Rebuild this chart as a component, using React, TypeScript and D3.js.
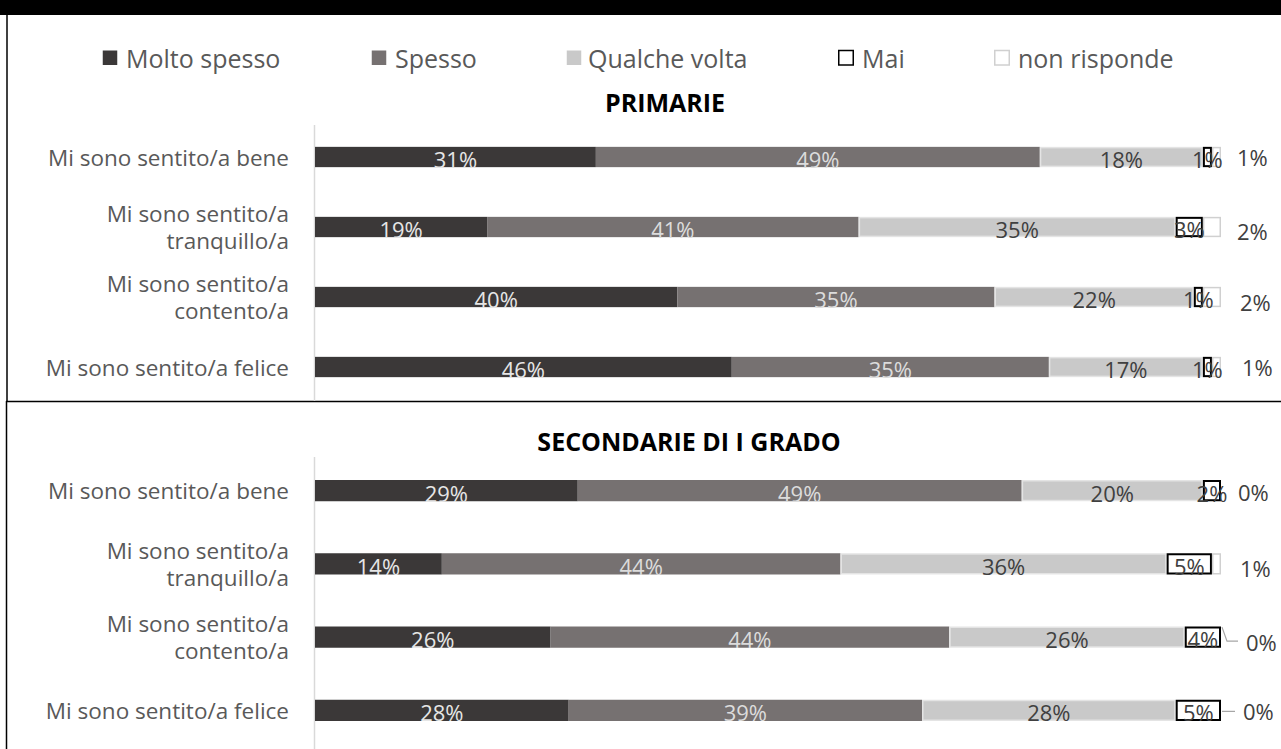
import React from 'react';
import * as d3 from 'd3';

const width = 1281;
const height = 749;

const seriesNames = ['Molto spesso', 'Spesso', 'Qualche volta', 'Mai', 'non risponde'];
const categories = [
  'Mi sono sentito/a bene',
  'Mi sono sentito/a tranquillo/a',
  'Mi sono sentito/a contento/a',
  'Mi sono sentito/a felice',
];
const categoryLines = [
  ['Mi sono sentito/a bene'],
  ['Mi sono sentito/a', 'tranquillo/a'],
  ['Mi sono sentito/a', 'contento/a'],
  ['Mi sono sentito/a felice'],
];

// PRIMARIE
const primMoltoSpesso = [31, 19, 40, 46];
const primSpesso = [49, 41, 35, 35];
const primQualcheVolta = [18, 35, 22, 17];
const primMai = [1, 3, 1, 1];
const primNonRisponde = [1, 2, 2, 1];

// SECONDARIE DI I GRADO
const secMoltoSpesso = [29, 14, 26, 28];
const secSpesso = [49, 44, 44, 39];
const secQualcheVolta = [20, 36, 26, 28];
const secMai = [2, 5, 4, 5];
const secNonRisponde = [0, 1, 0, 0];

const fills = ['#3b3838', '#767171', '#c9c9c9', '#ffffff', '#ffffff'];
const strokes = ['none', 'none', '#e4e4e4', '#000000', '#d0d0d0'];
const strokeWidths = [0, 0, 1.5, 2, 1.5];
const labelColors = ['#e6e6e6', '#dcdcdc', '#404040', '#404040', '#404040'];

const legendSquareX = [102, 371, 566, 838, 994];
const legendTextX = [126, 395, 588, 862, 1018];

const font = "'Segoe UI', 'Open Sans', sans-serif";

const x = d3.scaleLinear().domain([0, 100]).range([315, 1221]);

function buildRows(cols) {
  return categories.map((c, i) => {
    const row = {category: c};
    seriesNames.forEach((s, j) => {
      row[s] = cols[j][i];
    });
    return row;
  });
}

function Panel({title, titleX, titleY, cols, rangeY, axisY, outside, leaders}) {
  const rows = buildRows(cols);
  const stacked = d3.stack().keys(seriesNames)(rows);
  const y = d3.scaleBand()
    .domain(categories)
    .range(rangeY)
    .paddingInner(0.71)
    .paddingOuter(0.355);
  const bw = y.bandwidth();

  return (
    <g>
      <text x={titleX} y={titleY} textAnchor="middle" dominantBaseline="central"
        fontFamily={font} fontWeight="bold" fontSize={25} fill="#000">{title}</text>
      <line x1={314.5} x2={314.5} y1={axisY[0]} y2={axisY[1]} stroke="#d9d9d9" strokeWidth={1.5} />
      {categories.map((c, i) => {
        const cy = y(c) + bw / 2;
        const lines = categoryLines[i];
        return (
          <text key={c} x={289} textAnchor="end" fontFamily={font} fontSize={22.5} fill="#595959">
            {lines.map((l, k) => (
              <tspan key={k} x={289} y={cy + (k - (lines.length - 1) / 2) * 27} dominantBaseline="central">{l}</tspan>
            ))}
          </text>
        );
      })}
      {stacked.map((layer, j) => (
        <g key={layer.key}>
          {layer.map((d, i) => {
            const x0 = x(d[0]);
            const x1 = x(d[1]);
            const w = Math.max(x1 - x0, 0);
            const yy = y(categories[i]);
            const inset = strokeWidths[j] / 2;
            return (
              <rect key={i}
                x={x0 + inset} y={yy + inset}
                width={Math.max(w - strokeWidths[j], 0)} height={bw - strokeWidths[j]}
                fill={fills[j]} stroke={strokes[j]} strokeWidth={strokeWidths[j]} />
            );
          })}
        </g>
      ))}
      {stacked.map((layer, j) => (
        <g key={'lab' + layer.key}>
          {layer.map((d, i) => {
            const v = d[1] - d[0];
            const cy = y(categories[i]) + bw / 2;
            if (j === 4) {
              const [dx, dy] = outside[i];
              return (
                <text key={i} x={x(100) + dx} y={cy + dy} dominantBaseline="central"
                  fontFamily={font} fontSize={22} fill={labelColors[j]}>{v}%</text>
              );
            }
            return (
              <text key={i} x={(x(d[0]) + x(d[1])) / 2} y={cy + 2} textAnchor="middle" dominantBaseline="central"
                fontFamily={font} fontSize={22} fill={labelColors[j]}>{v}%</text>
            );
          })}
        </g>
      ))}
      {leaders.map((pts, i) => pts && (
        <polyline key={i}
          points={pts.map(([dx, dy]) => `${x(100) + dx},${y(categories[i]) + bw / 2 + dy}`).join(' ')}
          fill="none" stroke="#a6a6a6" strokeWidth={1.2} />
      ))}
    </g>
  );
}

export default function App() {
  return (
    <svg width={width} height={height} style={{position: 'absolute', left: 0, top: 0, background: '#fff'}}>
      <rect x={0} y={0} width={width} height={15} fill="#000" />
      {/* panel borders */}
      <line x1={7} x2={7} y1={15} y2={401} stroke="#000" strokeWidth={1.5} />
      <line x1={6} x2={width} y1={401.5} y2={401.5} stroke="#000" strokeWidth={1.5} />
      <line x1={6.5} x2={6.5} y1={401} y2={height} stroke="#000" strokeWidth={1.5} />

      {seriesNames.map((s, j) => (
        <g key={s}>
          <rect x={legendSquareX[j] + 0.75} y={50.5} width={14.5} height={14.5}
            fill={j >= 3 ? '#fff' : fills[j]}
            stroke={j === 3 ? '#000' : j === 4 ? '#d0d0d0' : 'none'} strokeWidth={1.5} />
          <text x={legendTextX[j]} y={57.5} dominantBaseline="central"
            fontFamily={font} fontSize={25} fill="#595959">{s}</text>
        </g>
      ))}

      <Panel title="PRIMARIE" titleX={665} titleY={102}
        cols={[primMoltoSpesso, primSpesso, primQualcheVolta, primMai, primNonRisponde]}
        rangeY={[122, 402]} axisY={[125, 401]}
        outside={[[16, 0], [16, 4], [19, 5], [21, 0]]}
        leaders={[null, null, null, null]} />
      <Panel title="SECONDARIE DI I GRADO" titleX={689} titleY={441}
        cols={[secMoltoSpesso, secSpesso, secQualcheVolta, secMai, secNonRisponde]}
        rangeY={[454, 747]} axisY={[457, 749]}
        outside={[[17, 1], [19, 4], [25, 5], [22, 1]]}
        leaders={[null, null, [[1, -10], [6, 4], [17, 4]], [[1, 1], [14, 1]]]} />
    </svg>
  );
}
